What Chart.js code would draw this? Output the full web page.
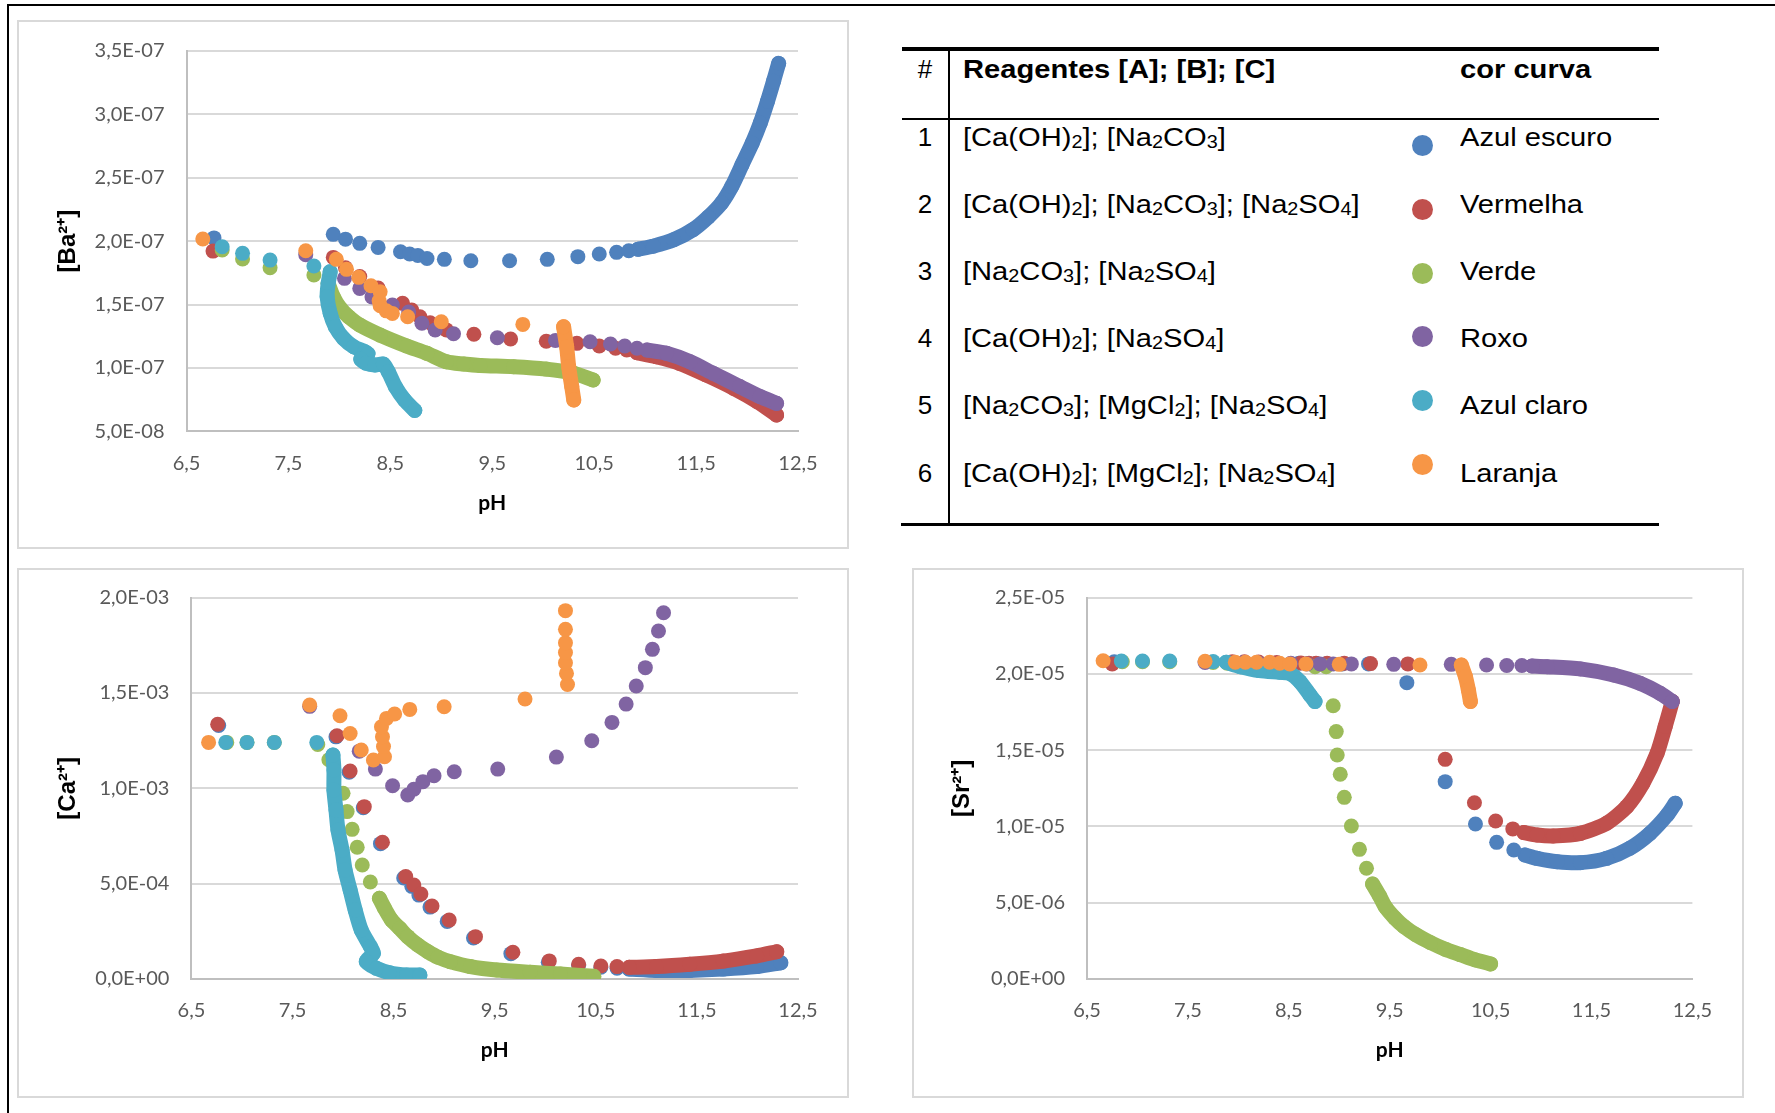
<!DOCTYPE html>
<html lang="pt">
<head>
<meta charset="utf-8">
<title>Concentrações em função do pH</title>
<script src="https://cdn.jsdelivr.net/npm/chart.js@4.4.1/dist/chart.umd.min.js"></script>
<style>
  body { margin: 0; background: #fff; }
  #pagina { position: relative; width: 1775px; height: 1113px; overflow: hidden; font-family: 'Liberation Sans', Arial, sans-serif; color: #000; }
  .linha { position: absolute; background: #000; }
  .painel { position: absolute; border: 2px solid #D9D9D9; box-sizing: border-box; }
  .grafico { position: absolute; }
  .txt { position: absolute; white-space: nowrap; font-size: 26px; line-height: 30px; transform: scaleX(1.12); transform-origin: 0 50%; }
  .num { position: absolute; width: 40px; text-align: center; font-size: 26px; line-height: 30px; }
  .bola { position: absolute; width: 21px; height: 21px; border-radius: 50%; }
  sub { font-size: 0.68em; vertical-align: -0.1em; line-height: 0; }
</style>
</head>
<body>
<div id="pagina">
  <div class="linha" style="left:7px;top:4px;width:1768px;height:2px"></div>
  <div class="linha" style="left:7px;top:4px;width:2px;height:1109px"></div>

  <div class="painel" style="left:17px;top:20px;width:832px;height:529px"></div>
  <div class="painel" style="left:17px;top:568px;width:832px;height:530px"></div>
  <div class="painel" style="left:912px;top:568px;width:832px;height:530px"></div>

  <canvas id="graficoBa" class="grafico" width="828" height="520" style="left:20px;top:22px"></canvas>
  <canvas id="graficoCa" class="grafico" width="828" height="525" style="left:20px;top:571px"></canvas>
  <canvas id="graficoSr" class="grafico" width="826" height="524" style="left:915px;top:571px"></canvas>

  <div id="tabela"></div>
</div>

<script>
// Eixo x (pH) comum aos três gráficos
const phTicks = [6.5, 7.5, 8.5, 9.5, 10.5, 11.5, 12.5];
const phRotulos = ['6,5', '7,5', '8,5', '9,5', '10,5', '11,5', '12,5'];

const baTicks = [5e-8, 1e-7, 1.5e-7, 2e-7, 2.5e-7, 3e-7, 3.5e-7];
const baRotulos = ['5,0E-08', '1,0E-07', '1,5E-07', '2,0E-07', '2,5E-07', '3,0E-07', '3,5E-07'];
const caTicks = [0, 5e-4, 1e-3, 1.5e-3, 2e-3];
const caRotulos = ['0,0E+00', '5,0E-04', '1,0E-03', '1,5E-03', '2,0E-03'];
const srTicks = [0, 5e-6, 1e-5, 1.5e-5, 2e-5, 2.5e-5];
const srRotulos = ['0,0E+00', '5,0E-06', '1,0E-05', '1,5E-05', '2,0E-05', '2,5E-05'];

// Legenda (tabela)
const numeros = ['1', '2', '3', '4', '5', '6'];
const reagentes = [
    '[Ca(OH)2]; [Na2CO3]',
    '[Ca(OH)2]; [Na2CO3]; [Na2SO4]',
    '[Na2CO3]; [Na2SO4]',
    '[Ca(OH)2]; [Na2SO4]',
    '[Na2CO3]; [MgCl2]; [Na2SO4]',
    '[Ca(OH)2]; [MgCl2]; [Na2SO4]'
];
const nomesCores = ['Azul escuro', 'Vermelha', 'Verde', 'Roxo', 'Azul claro', 'Laranja'];
const cores = ['#4F81BD', '#C0504D', '#9BBB59', '#8064A2', '#4BACC6', '#F79646'];

// [Ba2+] em unidades de 1E-08 — pontos isolados e trechos contínuos (curva)
const baAzulEscuro = [[6.77,20.25],[7.94,20.53],[8.06,20.15],[8.20,19.82],[8.38,19.5],[8.60,19.16],[8.69,18.98],[8.77,18.87],[8.86,18.63],[9.03,18.56],[9.29,18.45],[9.67,18.45],[10.04,18.56],[10.34,18.77],[10.55,18.98],[10.72,19.11],[10.84,19.24]];
const baAzulEscuroCurva = [[10.93,19.35],[11.08,19.6],[11.28,20.1],[11.47,20.9],[11.62,21.9],[11.75,23.0],[11.85,24.3],[11.95,26.0],[12.05,27.7],[12.13,29.3],[12.20,31.0],[12.26,32.6],[12.31,34.0]];
const baVermelha = [[6.76,19.21],[7.94,18.71],[8.06,17.9],[8.20,17.2],[8.38,16.3],[8.62,15.09],[8.71,14.56],[8.79,14.04],[8.89,13.56],[9.05,13.0],[9.32,12.65],[9.68,12.28],[10.03,12.1],[10.33,11.94],[10.55,11.73],[10.71,11.55],[10.82,11.41]];
const baVermelhaCurva = [[10.92,11.2],[11.11,10.89],[11.34,10.36],[11.6,9.44],[11.87,8.39],[12.10,7.34],[12.29,6.29]];
const baVerde = [[6.85,19.3],[7.05,18.58],[7.32,17.9],[7.75,17.32]];
const baVerdeCurva = [[7.89,16.66],[7.94,15.61],[8.01,14.69],[8.09,14.04],[8.20,13.38],[8.40,12.59],[8.66,11.73],[8.86,11.15],[9.05,10.49],[9.22,10.31],[9.38,10.2],[9.71,10.1],[10.03,9.91],[10.30,9.58],[10.49,9.05]];
const baRoxo = [[7.67,18.93],[8.05,17.06],[8.20,16.27],[8.32,15.6],[8.52,14.96],[8.68,14.4],[8.81,13.52],[8.94,13.0],[9.12,12.7],[9.55,12.38],[10.12,12.17],[10.46,12.07],[10.66,11.89],[10.80,11.73],[10.92,11.55]];
const baRoxoCurva = [[11.02,11.41],[11.21,11.15],[11.44,10.49],[11.67,9.57],[11.93,8.53],[12.13,7.74],[12.29,7.21]];
const baAzulClaro = [[6.85,19.55],[7.05,19.03],[7.32,18.5],[7.75,18.03]];
const baAzulClaroCurva = [[7.91,17.58],[7.89,16.66],[7.88,15.61],[7.91,14.3],[7.96,13.25],[8.04,12.33],[8.14,11.67],[8.25,11.28],[8.28,11.1],[8.21,10.7],[8.26,10.38],[8.35,10.23],[8.43,10.31],[8.48,9.7],[8.55,8.52],[8.64,7.47],[8.74,6.65]];
const baLaranja = [[6.66,20.16],[7.67,19.24],[7.97,18.56],[8.07,17.77],[8.19,17.14],[8.31,16.48],[8.40,16.0],[8.39,15.3],[8.40,14.9],[8.46,14.5],[8.52,14.3],[8.67,14.04],[9.0,13.64],[9.80,13.43]];
const baLaranjaCurva = [[10.20,13.25],[10.23,11.68],[10.25,10.1],[10.28,8.53],[10.30,7.47]];

// [Ca2+] em unidades de 1E-04
const caAzulEscuro = [[6.77,13.3],[7.93,12.7],[8.06,10.85],[8.20,8.98],[8.37,7.1],[8.60,5.3],[8.68,4.86],[8.75,4.4],[8.86,3.77],[9.03,3.02],[9.29,2.15],[9.66,1.33],[10.03,0.88],[10.33,0.72],[10.55,0.62],[10.71,0.57]];
const caAzulEscuroCurva = [[10.83,0.52],[11.1,0.45],[11.43,0.45],[11.76,0.52],[12.09,0.65],[12.33,0.85]];
const caVermelha = [[6.76,13.36],[7.94,12.76],[8.07,10.91],[8.21,9.04],[8.39,7.17],[8.62,5.37],[8.70,4.93],[8.77,4.46],[8.88,3.83],[9.05,3.09],[9.31,2.22],[9.68,1.40],[10.04,0.95],[10.33,0.77],[10.55,0.68],[10.71,0.65]];
const caVermelhaCurva = [[10.83,0.61],[11.10,0.65],[11.43,0.77],[11.76,0.94],[12.09,1.21],[12.29,1.43]];
const caVerde = [[6.85,12.41],[7.05,12.41],[7.32,12.41],[7.75,12.3],[7.86,11.5],[8.0,9.74],[8.04,8.78],[8.09,7.85],[8.14,6.91],[8.19,5.98],[8.27,5.09]];
const caVerdeCurva = [[8.36,4.23],[8.41,3.71],[8.48,3.09],[8.56,2.66],[8.64,2.22],[8.74,1.78],[8.84,1.43],[8.94,1.14],[9.06,0.91],[9.26,0.65],[9.52,0.47],[9.85,0.35],[10.15,0.26],[10.48,0.14]];
const caRoxo = [[7.67,14.3],[8.16,11.95],[8.32,11.01],[8.49,10.14],[8.64,9.65],[8.70,9.95],[8.79,10.35],[8.90,10.66],[9.10,10.87],[9.53,11.01],[10.11,11.64],[10.46,12.5],[10.66,13.46],[10.80,14.42],[10.90,15.37],[10.99,16.33],[11.06,17.29],[11.12,18.25],[11.17,19.21]];
const caAzulClaro = [[6.84,12.41],[7.05,12.41],[7.32,12.41],[7.74,12.41]];
const caAzulClaroCurva = [[7.90,11.75],[7.91,10.96],[7.91,9.91],[7.93,8.86],[7.95,7.81],[7.99,6.77],[8.02,5.72],[8.07,4.67],[8.12,3.62],[8.18,2.57],[8.27,1.70],[8.30,1.35],[8.23,0.91],[8.33,0.56],[8.46,0.33],[8.63,0.21],[8.76,0.21]];
const caLaranja = [[6.67,12.41],[7.67,14.37],[7.97,13.81],[8.07,12.88],[8.18,12.01],[8.30,11.49],[8.41,11.66],[8.40,12.19],[8.39,12.71],[8.38,13.23],[8.43,13.67],[8.51,13.9],[8.66,14.14],[9.0,14.28],[9.80,14.69],[10.22,15.45],[10.21,16.03],[10.20,16.59],[10.20,17.12],[10.20,17.64],[10.20,18.34],[10.20,19.32]];

// [Sr2+] em unidades de 1E-06
const srAzulEscuro = [[6.77,20.8],[7.94,20.75],[8.06,20.75],[8.20,20.72],[8.38,20.7],[8.60,20.7],[8.69,20.68],[8.77,20.68],[8.86,20.66],[9.03,20.66],[9.29,20.66],[9.67,19.43],[10.05,12.94],[10.35,10.16],[10.56,8.96],[10.73,8.46]];
const srAzulEscuroCurva = [[10.84,8.13],[10.96,7.91],[11.16,7.69],[11.39,7.63],[11.65,7.91],[11.88,8.57],[12.08,9.55],[12.25,10.75],[12.33,11.52]];
const srVermelha = [[6.75,20.66],[7.94,20.8],[8.06,20.8],[8.20,20.78],[8.38,20.75],[8.62,20.72],[8.70,20.7],[8.77,20.7],[8.88,20.7],[9.05,20.7],[9.31,20.68],[9.68,20.66],[10.05,14.4],[10.34,11.56],[10.55,10.36],[10.72,9.84]];
const srVermelhaCurva = [[10.83,9.6],[10.96,9.44],[11.12,9.38],[11.39,9.55],[11.65,10.21],[11.85,11.3],[12.01,12.83],[12.15,14.8],[12.23,16.55],[12.30,18.19]];
const srVerde = [[6.85,20.8],[7.05,20.8],[7.32,20.8],[7.75,20.75],[7.89,20.7],[8.76,20.48],[8.87,20.48],[8.94,17.92],[8.97,16.22],[8.98,14.69],[9.01,13.42],[9.05,11.91],[9.12,10.03],[9.20,8.5],[9.27,7.26]];
const srVerdeCurva = [[9.33,6.23],[9.40,5.44],[9.46,4.7],[9.55,4.0],[9.64,3.45],[9.76,2.9],[9.90,2.4],[10.05,1.95],[10.20,1.6],[10.35,1.25],[10.50,0.99]];
const srRoxo = [[7.67,20.75],[8.05,20.75],[8.20,20.72],[8.32,20.7],[8.52,20.7],[8.68,20.66],[8.81,20.66],[8.94,20.66],[9.12,20.66],[9.54,20.63],[10.11,20.63],[10.46,20.59],[10.66,20.55],[10.81,20.55]];
const srRoxoCurva = [[10.91,20.52],[11.06,20.48],[11.39,20.33],[11.72,19.93],[11.98,19.39],[12.18,18.73],[12.30,18.19]];
const srAzulClaro = [[6.84,20.85],[7.05,20.85],[7.32,20.85],[7.75,20.81]];
const srAzulClaroCurva = [[7.88,20.77],[8.02,20.48],[8.21,20.22],[8.41,20.11],[8.51,20.04],[8.61,19.5],[8.71,18.62],[8.76,18.19]];
const srLaranja = [[6.66,20.87],[7.67,20.83],[7.97,20.77],[8.07,20.77],[8.18,20.77],[8.31,20.77],[8.41,20.7],[8.51,20.66],[8.67,20.66],[9.0,20.63],[9.80,20.59]];
const srLaranjaCurva = [[10.21,20.59],[10.25,19.83],[10.28,18.95],[10.30,18.19]];

// ---- Tabela de legenda ----
function comSubscrito(txt) {
    return txt.replace(/([A-Za-z)])(\d)/g, '$1<sub>$2</sub>');
}

function montarTabela() {
    const tabela = document.getElementById('tabela');
    const add = (html) => tabela.insertAdjacentHTML('beforeend', html);

    add('<div class="linha" style="left:902px;top:47px;width:757px;height:3.5px"></div>');
    add('<div class="linha" style="left:902px;top:117.5px;width:757px;height:2.5px"></div>');
    add('<div class="linha" style="left:901px;top:522.5px;width:758px;height:3.5px"></div>');
    add('<div class="linha" style="left:947.5px;top:49px;width:2px;height:475px"></div>');

    add('<div class="num" style="left:905px;top:54px">#</div>');
    add('<div class="txt" style="left:963px;top:54px;font-weight:bold">Reagentes [A]; [B]; [C]</div>');
    add('<div class="txt" style="left:1460px;top:54px;font-weight:bold">cor curva</div>');

    numeros.forEach((n, i) => {
        const yTexto = 121.5 + 67.2 * i;
        const yBola = 145.4 + 63.8 * i;
        add(`<div class="num" style="left:905px;top:${yTexto}px">${n}</div>`);
        add(`<div class="txt" style="left:963px;top:${yTexto}px">${comSubscrito(reagentes[i])}</div>`);
        add(`<div class="bola" style="left:${1422 - 10.5}px;top:${yBola - 10.5}px;background:${cores[i]}"></div>`);
        add(`<div class="txt" style="left:1460px;top:${yTexto}px">${nomesCores[i]}</div>`);
    });
}

// ---- Gráficos ----
function montarSeries(pontos, curvas, unidade) {
    const datasets = [];
    pontos.forEach((serie, i) => {
        const base = {
            label: nomesCores[i],
            backgroundColor: cores[i],
            borderColor: cores[i],
            pointRadius: 7.5,
            pointHoverRadius: 7.5,
            pointBorderWidth: 0,
            order: 6 - i // séries posteriores por cima, como no Excel
        };
        datasets.push(Object.assign({}, base, {
            data: serie.map(p => ({ x: p[0], y: p[1] * unidade })),
            showLine: false
        }));
        if (curvas[i]) {
            // trecho com pontos muito próximos: desenhado como faixa contínua
            datasets.push(Object.assign({}, base, {
                data: curvas[i].map(p => ({ x: p[0], y: p[1] * unidade })),
                showLine: true,
                borderWidth: 15,
                borderCapStyle: 'round',
                borderJoinStyle: 'round',
                tension: 0.25
            }));
        }
    });
    return datasets;
}

function configurar(datasets, yTicks, yRotulos, yTitulo, geo) {
    return {
        type: 'scatter',
        data: { datasets: datasets },
        options: {
            responsive: false,
            animation: false,
            events: [],
            devicePixelRatio: 1,
            layout: { padding: { top: geo.topo, right: geo.direita, bottom: 0, left: 0 } },
            plugins: { legend: { display: false }, tooltip: { enabled: false } },
            scales: {
                x: {
                    type: 'linear',
                    min: phTicks[0],
                    max: phTicks[phTicks.length - 1],
                    afterBuildTicks: s => { s.ticks = phTicks.map(v => ({ value: v })); },
                    afterFit: s => { s.height = geo.alturaX; s.paddingLeft = 0; s.paddingRight = 0; },
                    ticks: {
                        callback: (v, i) => phRotulos[i],
                        color: '#595959',
                        font: { family: 'Lato', size: 20 },
                        padding: 20,
                        autoSkip: false,
                        maxRotation: 0
                    },
                    grid: { display: false, drawTicks: false },
                    border: { display: true, color: '#BFBFBF', width: 2 },
                    title: {
                        display: true,
                        text: 'pH',
                        color: '#000',
                        font: { family: 'Lato', size: 21, weight: 'bold' },
                        padding: { top: 0, bottom: geo.tituloX }
                    }
                },
                y: {
                    type: 'linear',
                    min: yTicks[0],
                    max: yTicks[yTicks.length - 1],
                    afterBuildTicks: s => { s.ticks = yTicks.map(v => ({ value: v })); },
                    afterFit: s => { s.width = geo.larguraY; s.paddingTop = 0; s.paddingBottom = 0; },
                    ticks: {
                        callback: (v, i) => yRotulos[i],
                        color: '#595959',
                        font: { family: 'Lato', size: 20 },
                        padding: 22
                    },
                    grid: { color: '#D9D9D9', lineWidth: 2, drawTicks: false },
                    border: { display: true, color: '#BFBFBF', width: 2 },
                    title: {
                        display: true,
                        text: yTitulo,
                        color: '#000',
                        font: { family: 'Liberation Sans', size: 24, weight: 'bold' },
                        padding: { top: geo.tituloY, bottom: 0 }
                    }
                }
            }
        }
    };
}

montarTabela();

new Chart(document.getElementById('graficoBa'), configurar(
    montarSeries(
        [baAzulEscuro, baVermelha, baVerde, baRoxo, baAzulClaro, baLaranja],
        [baAzulEscuroCurva, baVermelhaCurva, baVerdeCurva, baRoxoCurva, baAzulClaroCurva, baLaranjaCurva],
        1e-8),
    baTicks, baRotulos, '[Ba²⁺]',
    { topo: 28.7, direita: 50, larguraY: 166.5, alturaX: 110.6, tituloX: 25.8, tituloY: 34.2 }
));

new Chart(document.getElementById('graficoCa'), configurar(
    montarSeries(
        [caAzulEscuro, caVermelha, caVerde, caRoxo, caAzulClaro, caLaranja],
        [caAzulEscuroCurva, caVermelhaCurva, caVerdeCurva, null, caAzulClaroCurva, null],
        1e-4),
    caTicks, caRotulos, '[Ca²⁺]',
    { topo: 26.7, direita: 50, larguraY: 171.4, alturaX: 117, tituloX: 33.4, tituloY: 34.2 }
));

new Chart(document.getElementById('graficoSr'), configurar(
    montarSeries(
        [srAzulEscuro, srVermelha, srVerde, srRoxo, srAzulClaro, srLaranja],
        [srAzulEscuroCurva, srVermelhaCurva, srVerdeCurva, srRoxoCurva, srAzulClaroCurva, srLaranjaCurva],
        1e-6),
    srTicks, srRotulos, '[Sr²⁺]',
    { topo: 26.7, direita: 48.6, larguraY: 172, alturaX: 116, tituloX: 32.4, tituloY: 33.1 }
));
</script>
</body>
</html>
